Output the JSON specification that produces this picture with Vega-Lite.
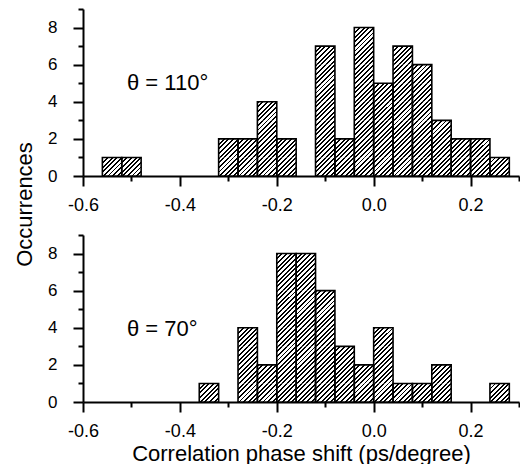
{
  "$schema": "https://vega.github.io/schema/vega-lite/v6.json",
  "padding": {"left": 13, "top": 0, "right": 0, "bottom": 0},
  "bounds": "flush",
  "spacing": 59,
  "datasets": {
    "top": [
      {"x0": -0.56, "x1": -0.52, "n": 1},
      {"x0": -0.52, "x1": -0.48, "n": 1},
      {"x0": -0.32, "x1": -0.28, "n": 2},
      {"x0": -0.28, "x1": -0.24, "n": 2},
      {"x0": -0.24, "x1": -0.20, "n": 4},
      {"x0": -0.20, "x1": -0.16, "n": 2},
      {"x0": -0.12, "x1": -0.08, "n": 7},
      {"x0": -0.08, "x1": -0.04, "n": 2},
      {"x0": -0.04, "x1": 0.00, "n": 8},
      {"x0": 0.00, "x1": 0.04, "n": 5},
      {"x0": 0.04, "x1": 0.08, "n": 7},
      {"x0": 0.08, "x1": 0.12, "n": 6},
      {"x0": 0.12, "x1": 0.16, "n": 3},
      {"x0": 0.16, "x1": 0.20, "n": 2},
      {"x0": 0.20, "x1": 0.24, "n": 2},
      {"x0": 0.24, "x1": 0.28, "n": 1}
    ],
    "bottom": [
      {"x0": -0.36, "x1": -0.32, "n": 1},
      {"x0": -0.28, "x1": -0.24, "n": 4},
      {"x0": -0.24, "x1": -0.20, "n": 2},
      {"x0": -0.20, "x1": -0.16, "n": 8},
      {"x0": -0.16, "x1": -0.12, "n": 8},
      {"x0": -0.12, "x1": -0.08, "n": 6},
      {"x0": -0.08, "x1": -0.04, "n": 3},
      {"x0": -0.04, "x1": 0.00, "n": 2},
      {"x0": 0.00, "x1": 0.04, "n": 4},
      {"x0": 0.04, "x1": 0.08, "n": 1},
      {"x0": 0.08, "x1": 0.12, "n": 1},
      {"x0": 0.12, "x1": 0.16, "n": 2},
      {"x0": 0.24, "x1": 0.28, "n": 1}
    ]
  },
  "config": {
    "view": {"stroke": null},
    "axis": {
      "domainColor": "#000", "domainWidth": 2, "tickColor": "#000", "tickWidth": 2,
      "labelFont": "Liberation Sans", "labelColor": "#000",
      "titleFont": "Liberation Sans", "titleFontSize": 22, "titleFontWeight": "normal", "titleColor": "#000",
      "grid": false, "labelFlush": false, "labelOverlap": false
    },
    "axisX": {"labelFontSize": 18},
    "axisY": {"labelFontSize": 17},
    "title": {"font": "Liberation Sans", "fontSize": 22, "fontWeight": "normal", "color": "#000", "anchor": "start", "frame": "group", "orient": "top", "offset": 0, "baseline": "alphabetic"},
    "rect": {
      "stroke": null, "strokeWidth": 0,
      "color": {
        "gradient": "linear", "x1": 0, "y1": 0, "x2": 1.0211, "y2": 0.9778,
        "stops": [
          {"offset": 0, "color": "#000"}, {"offset": 0.0514, "color": "#000"}, {"offset": 0.0514, "color": "#fff"}, {"offset": 0.1223, "color": "#fff"},
          {"offset": 0.1223, "color": "#000"}, {"offset": 0.1737, "color": "#000"}, {"offset": 0.1737, "color": "#fff"}, {"offset": 0.2446, "color": "#fff"},
          {"offset": 0.2446, "color": "#000"}, {"offset": 0.296, "color": "#000"}, {"offset": 0.296, "color": "#fff"}, {"offset": 0.3669, "color": "#fff"},
          {"offset": 0.3669, "color": "#000"}, {"offset": 0.4183, "color": "#000"}, {"offset": 0.4183, "color": "#fff"}, {"offset": 0.4892, "color": "#fff"},
          {"offset": 0.4892, "color": "#000"}, {"offset": 0.5406, "color": "#000"}, {"offset": 0.5406, "color": "#fff"}, {"offset": 0.6115, "color": "#fff"},
          {"offset": 0.6115, "color": "#000"}, {"offset": 0.6629, "color": "#000"}, {"offset": 0.6629, "color": "#fff"}, {"offset": 0.7338, "color": "#fff"},
          {"offset": 0.7338, "color": "#000"}, {"offset": 0.7852, "color": "#000"}, {"offset": 0.7852, "color": "#fff"}, {"offset": 0.8561, "color": "#fff"},
          {"offset": 0.8561, "color": "#000"}, {"offset": 0.9075, "color": "#000"}, {"offset": 0.9075, "color": "#fff"}, {"offset": 0.9784, "color": "#fff"},
          {"offset": 0.9784, "color": "#000"}, {"offset": 1, "color": "#000"}
        ]
      }
    }
  },
  "vconcat": [
    {
      "width": 436, "height": 167,
      "title": {"text": "θ = 110°", "dx": 44, "dy": 99},
      "data": {"name": "top"},
      "encoding": {
        "x": {"field": "x0", "type": "quantitative", "scale": {"domain": [-0.6, 0.3], "nice": false, "zero": false},
              "axis": {"values": [-0.6, -0.5, -0.4, -0.3, -0.2, -0.1, 0, 0.1, 0.2, 0.3], "labelExpr": "abs(round(datum.value*10)) % 2 == 1 ? '' : replace(format(datum.value, '.1f'), '\u2212', '-')", "tickSize": {"condition": {"test": "abs(round(datum.value*10)) % 2 == 1", "value": 5}, "value": 10}, "labelPadding": 10, "title": null}}
      },
      "layer": [
        {"transform": [{"filter": "datum.n >= 1"}], "mark": {"type": "rect"}, "encoding": {"x2": {"field": "x1"}, "y": {"datum": 0, "type": "quantitative", "scale": {"domain": [0, 9], "nice": false}, "axis": {"values": [0, 1, 2, 3, 4, 5, 6, 7, 8, 9], "labelExpr": "datum.value % 2 == 1 ? '' : datum.label", "tickSize": {"condition": {"test": "datum.value % 2 == 1", "value": 5}, "value": 10}, "labelPadding": 16, "title": "Occurrences", "titleY": 195, "titleX": -47}}, "y2": {"datum": 1}}},
        {"transform": [{"filter": "datum.n >= 2"}], "mark": {"type": "rect"}, "encoding": {"x2": {"field": "x1"}, "y": {"datum": 1, "type": "quantitative", "scale": {"domain": [0, 9], "nice": false}, "axis": {"values": [0, 1, 2, 3, 4, 5, 6, 7, 8, 9], "labelExpr": "datum.value % 2 == 1 ? '' : datum.label", "tickSize": {"condition": {"test": "datum.value % 2 == 1", "value": 5}, "value": 10}, "labelPadding": 16, "title": "Occurrences", "titleY": 195, "titleX": -47}}, "y2": {"datum": 2}}},
        {"transform": [{"filter": "datum.n >= 3"}], "mark": {"type": "rect"}, "encoding": {"x2": {"field": "x1"}, "y": {"datum": 2, "type": "quantitative", "scale": {"domain": [0, 9], "nice": false}, "axis": {"values": [0, 1, 2, 3, 4, 5, 6, 7, 8, 9], "labelExpr": "datum.value % 2 == 1 ? '' : datum.label", "tickSize": {"condition": {"test": "datum.value % 2 == 1", "value": 5}, "value": 10}, "labelPadding": 16, "title": "Occurrences", "titleY": 195, "titleX": -47}}, "y2": {"datum": 3}}},
        {"transform": [{"filter": "datum.n >= 4"}], "mark": {"type": "rect"}, "encoding": {"x2": {"field": "x1"}, "y": {"datum": 3, "type": "quantitative", "scale": {"domain": [0, 9], "nice": false}, "axis": {"values": [0, 1, 2, 3, 4, 5, 6, 7, 8, 9], "labelExpr": "datum.value % 2 == 1 ? '' : datum.label", "tickSize": {"condition": {"test": "datum.value % 2 == 1", "value": 5}, "value": 10}, "labelPadding": 16, "title": "Occurrences", "titleY": 195, "titleX": -47}}, "y2": {"datum": 4}}},
        {"transform": [{"filter": "datum.n >= 5"}], "mark": {"type": "rect"}, "encoding": {"x2": {"field": "x1"}, "y": {"datum": 4, "type": "quantitative", "scale": {"domain": [0, 9], "nice": false}, "axis": {"values": [0, 1, 2, 3, 4, 5, 6, 7, 8, 9], "labelExpr": "datum.value % 2 == 1 ? '' : datum.label", "tickSize": {"condition": {"test": "datum.value % 2 == 1", "value": 5}, "value": 10}, "labelPadding": 16, "title": "Occurrences", "titleY": 195, "titleX": -47}}, "y2": {"datum": 5}}},
        {"transform": [{"filter": "datum.n >= 6"}], "mark": {"type": "rect"}, "encoding": {"x2": {"field": "x1"}, "y": {"datum": 5, "type": "quantitative", "scale": {"domain": [0, 9], "nice": false}, "axis": {"values": [0, 1, 2, 3, 4, 5, 6, 7, 8, 9], "labelExpr": "datum.value % 2 == 1 ? '' : datum.label", "tickSize": {"condition": {"test": "datum.value % 2 == 1", "value": 5}, "value": 10}, "labelPadding": 16, "title": "Occurrences", "titleY": 195, "titleX": -47}}, "y2": {"datum": 6}}},
        {"transform": [{"filter": "datum.n >= 7"}], "mark": {"type": "rect"}, "encoding": {"x2": {"field": "x1"}, "y": {"datum": 6, "type": "quantitative", "scale": {"domain": [0, 9], "nice": false}, "axis": {"values": [0, 1, 2, 3, 4, 5, 6, 7, 8, 9], "labelExpr": "datum.value % 2 == 1 ? '' : datum.label", "tickSize": {"condition": {"test": "datum.value % 2 == 1", "value": 5}, "value": 10}, "labelPadding": 16, "title": "Occurrences", "titleY": 195, "titleX": -47}}, "y2": {"datum": 7}}},
        {"transform": [{"filter": "datum.n >= 8"}], "mark": {"type": "rect"}, "encoding": {"x2": {"field": "x1"}, "y": {"datum": 7, "type": "quantitative", "scale": {"domain": [0, 9], "nice": false}, "axis": {"values": [0, 1, 2, 3, 4, 5, 6, 7, 8, 9], "labelExpr": "datum.value % 2 == 1 ? '' : datum.label", "tickSize": {"condition": {"test": "datum.value % 2 == 1", "value": 5}, "value": 10}, "labelPadding": 16, "title": "Occurrences", "titleY": 195, "titleX": -47}}, "y2": {"datum": 8}}},
        {"mark": {"type": "rect", "fillOpacity": 0, "stroke": "#000", "strokeWidth": 1.6},
         "encoding": {"x2": {"field": "x1"}, "y": {"field": "n", "type": "quantitative", "scale": {"domain": [0, 9], "nice": false}, "axis": {"values": [0, 1, 2, 3, 4, 5, 6, 7, 8, 9], "labelExpr": "datum.value % 2 == 1 ? '' : datum.label", "tickSize": {"condition": {"test": "datum.value % 2 == 1", "value": 5}, "value": 10}, "labelPadding": 16, "title": "Occurrences", "titleY": 195, "titleX": -47}}, "y2": {"datum": 0}}}
      ]
    },
    {
      "width": 436, "height": 167,
      "title": {"text": "θ = 70°", "dx": 44, "dy": 119},
      "data": {"name": "bottom"},
      "encoding": {
        "x": {"field": "x0", "type": "quantitative", "scale": {"domain": [-0.6, 0.3], "nice": false, "zero": false},
              "axis": {"values": [-0.6, -0.5, -0.4, -0.3, -0.2, -0.1, 0, 0.1, 0.2, 0.3], "labelExpr": "abs(round(datum.value*10)) % 2 == 1 ? '' : replace(format(datum.value, '.1f'), '\u2212', '-')", "tickSize": {"condition": {"test": "abs(round(datum.value*10)) % 2 == 1", "value": 5}, "value": 10}, "labelPadding": 10, "title": "Correlation phase shift (ps/degree)", "titlePadding": 3}}
      },
      "layer": [
        {"transform": [{"filter": "datum.n >= 1"}], "mark": {"type": "rect"}, "encoding": {"x2": {"field": "x1"}, "y": {"datum": 0, "type": "quantitative", "scale": {"domain": [0, 9], "nice": false}, "axis": {"values": [0, 1, 2, 3, 4, 5, 6, 7, 8, 9], "labelExpr": "datum.value % 2 == 1 ? '' : datum.label", "tickSize": {"condition": {"test": "datum.value % 2 == 1", "value": 5}, "value": 10}, "labelPadding": 16, "title": null}}, "y2": {"datum": 1}}},
        {"transform": [{"filter": "datum.n >= 2"}], "mark": {"type": "rect"}, "encoding": {"x2": {"field": "x1"}, "y": {"datum": 1, "type": "quantitative", "scale": {"domain": [0, 9], "nice": false}, "axis": {"values": [0, 1, 2, 3, 4, 5, 6, 7, 8, 9], "labelExpr": "datum.value % 2 == 1 ? '' : datum.label", "tickSize": {"condition": {"test": "datum.value % 2 == 1", "value": 5}, "value": 10}, "labelPadding": 16, "title": null}}, "y2": {"datum": 2}}},
        {"transform": [{"filter": "datum.n >= 3"}], "mark": {"type": "rect"}, "encoding": {"x2": {"field": "x1"}, "y": {"datum": 2, "type": "quantitative", "scale": {"domain": [0, 9], "nice": false}, "axis": {"values": [0, 1, 2, 3, 4, 5, 6, 7, 8, 9], "labelExpr": "datum.value % 2 == 1 ? '' : datum.label", "tickSize": {"condition": {"test": "datum.value % 2 == 1", "value": 5}, "value": 10}, "labelPadding": 16, "title": null}}, "y2": {"datum": 3}}},
        {"transform": [{"filter": "datum.n >= 4"}], "mark": {"type": "rect"}, "encoding": {"x2": {"field": "x1"}, "y": {"datum": 3, "type": "quantitative", "scale": {"domain": [0, 9], "nice": false}, "axis": {"values": [0, 1, 2, 3, 4, 5, 6, 7, 8, 9], "labelExpr": "datum.value % 2 == 1 ? '' : datum.label", "tickSize": {"condition": {"test": "datum.value % 2 == 1", "value": 5}, "value": 10}, "labelPadding": 16, "title": null}}, "y2": {"datum": 4}}},
        {"transform": [{"filter": "datum.n >= 5"}], "mark": {"type": "rect"}, "encoding": {"x2": {"field": "x1"}, "y": {"datum": 4, "type": "quantitative", "scale": {"domain": [0, 9], "nice": false}, "axis": {"values": [0, 1, 2, 3, 4, 5, 6, 7, 8, 9], "labelExpr": "datum.value % 2 == 1 ? '' : datum.label", "tickSize": {"condition": {"test": "datum.value % 2 == 1", "value": 5}, "value": 10}, "labelPadding": 16, "title": null}}, "y2": {"datum": 5}}},
        {"transform": [{"filter": "datum.n >= 6"}], "mark": {"type": "rect"}, "encoding": {"x2": {"field": "x1"}, "y": {"datum": 5, "type": "quantitative", "scale": {"domain": [0, 9], "nice": false}, "axis": {"values": [0, 1, 2, 3, 4, 5, 6, 7, 8, 9], "labelExpr": "datum.value % 2 == 1 ? '' : datum.label", "tickSize": {"condition": {"test": "datum.value % 2 == 1", "value": 5}, "value": 10}, "labelPadding": 16, "title": null}}, "y2": {"datum": 6}}},
        {"transform": [{"filter": "datum.n >= 7"}], "mark": {"type": "rect"}, "encoding": {"x2": {"field": "x1"}, "y": {"datum": 6, "type": "quantitative", "scale": {"domain": [0, 9], "nice": false}, "axis": {"values": [0, 1, 2, 3, 4, 5, 6, 7, 8, 9], "labelExpr": "datum.value % 2 == 1 ? '' : datum.label", "tickSize": {"condition": {"test": "datum.value % 2 == 1", "value": 5}, "value": 10}, "labelPadding": 16, "title": null}}, "y2": {"datum": 7}}},
        {"transform": [{"filter": "datum.n >= 8"}], "mark": {"type": "rect"}, "encoding": {"x2": {"field": "x1"}, "y": {"datum": 7, "type": "quantitative", "scale": {"domain": [0, 9], "nice": false}, "axis": {"values": [0, 1, 2, 3, 4, 5, 6, 7, 8, 9], "labelExpr": "datum.value % 2 == 1 ? '' : datum.label", "tickSize": {"condition": {"test": "datum.value % 2 == 1", "value": 5}, "value": 10}, "labelPadding": 16, "title": null}}, "y2": {"datum": 8}}},
        {"mark": {"type": "rect", "fillOpacity": 0, "stroke": "#000", "strokeWidth": 1.6},
         "encoding": {"x2": {"field": "x1"}, "y": {"field": "n", "type": "quantitative", "scale": {"domain": [0, 9], "nice": false}, "axis": {"values": [0, 1, 2, 3, 4, 5, 6, 7, 8, 9], "labelExpr": "datum.value % 2 == 1 ? '' : datum.label", "tickSize": {"condition": {"test": "datum.value % 2 == 1", "value": 5}, "value": 10}, "labelPadding": 16, "title": null}}, "y2": {"datum": 0}}}
      ]
    }
  ]
}
